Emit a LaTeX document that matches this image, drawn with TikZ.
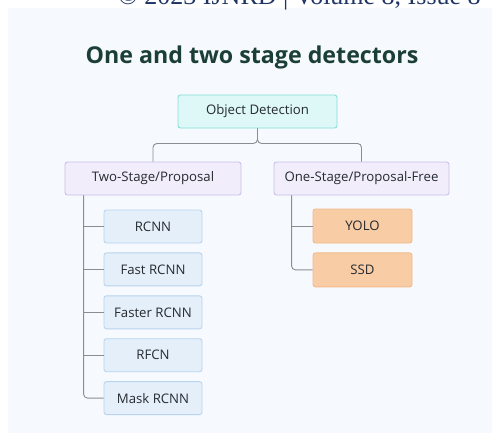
\documentclass[tikz,border=0pt]{standalone}
\usepackage{fontspec}
\setmainfont{Open Sans}
\newfontfamily\headfont{Liberation Serif}
\usetikzlibrary{positioning}
\definecolor{panelbg}{HTML}{F6F9FD}
\definecolor{titlegreen}{HTML}{1B3F36}
\definecolor{headnavy}{HTML}{1F3563}
\definecolor{txtgray}{HTML}{262B30}
\definecolor{linegray}{HTML}{8A8E93}
\definecolor{rootfill}{HTML}{DDF8F6}
\definecolor{rootdraw}{HTML}{86E0D8}
\definecolor{catfill}{HTML}{F1EDFB}
\definecolor{catdraw}{HTML}{C8BEE8}
\definecolor{twofill}{HTML}{E4EFFA}
\definecolor{twodraw}{HTML}{B9D4EE}
\definecolor{onefill}{HTML}{F8CCA5}
\definecolor{onedraw}{HTML}{F2BB8C}
\tikzset{
  box/.style={draw, rounded corners=2.5pt, line width=0.9pt, align=center,
    font=\fontsize{13.2}{15}\selectfont, text=txtgray, inner sep=0pt},
  rootbox/.style={box, fill=rootfill, draw=rootdraw, minimum width=159pt, minimum height=33pt},
  catbox/.style={box, fill=catfill, draw=catdraw, minimum width=176pt, minimum height=33pt},
  twobox/.style={box, fill=twofill, draw=twodraw, minimum width=98pt, minimum height=33pt},
  onebox/.style={box, fill=onefill, draw=onedraw, minimum width=99pt, minimum height=34pt},
  conn/.style={draw=linegray, line width=0.9pt}
}
\begin{document}
\begin{tikzpicture}[x=1pt,y=-1pt]
  \useasboundingbox (0,0) rectangle (492,433);
  \fill[panelbg] (8,8) rectangle (492,433);
  \node[anchor=base west, inner sep=0pt, text=headnavy, font=\headfont\fontsize{26}{28}\selectfont] (head) at (118,5) {© 2023 IJNRD | Volume 8, Issue 8};
  \node[text=titlegreen, font=\bfseries\fontsize{23.2}{26}\selectfont] (title) at (252,57) {One and two stage detectors};

  \node[rootbox] (od) at (257.5,111.5) {Object Detection};
  \node[catbox] (two) at (153,178.5) {Two-Stage/Proposal};
  \node[catbox, minimum width=175pt] (one) at (361.5,178.5) {One-Stage/Proposal-Free};

  \node[twobox] (rcnn) at (153,226.5) {RCNN};
  \node[twobox, below=9pt of rcnn] (fast) {Fast RCNN};
  \node[twobox, below=9pt of fast] (faster) {Faster RCNN};
  \node[twobox, below=9pt of faster] (rfcn) {RFCN};
  \node[twobox, below=9pt of rfcn] (mask) {Mask RCNN};

  \node[onebox] (yolo) at (362.5,226) {YOLO};
  \node[onebox, below=9pt of yolo] (ssd) {SSD};

  \draw[conn, rounded corners=4pt] (od.south) -- ++(0,15) -| (two.north);
  \draw[conn, rounded corners=4pt] (od.south) -- ++(0,15) -| (one.north);

  \coordinate (tv) at ([xshift=19pt]two.south west);
  \draw[conn, rounded corners=4pt] (tv) |- (mask.west);
  \foreach \n in {rcnn,fast,faster,rfcn}
    \draw[conn] (tv |- \n.west) -- (\n.west);

  \coordinate (ov) at ([xshift=18pt]one.south west);
  \draw[conn, rounded corners=4pt] (ov) |- (ssd.west);
  \draw[conn] (ov |- yolo.west) -- (yolo.west);
\end{tikzpicture}
\end{document}
